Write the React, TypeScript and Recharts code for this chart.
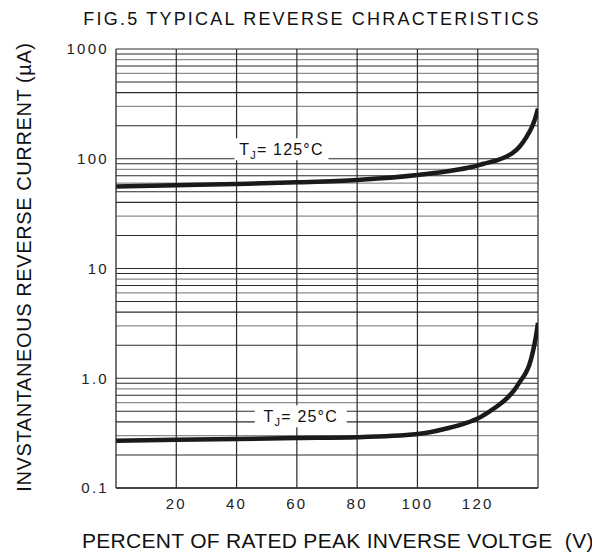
import React from 'react';
import { LineChart, Line, XAxis, YAxis, ReferenceLine, ReferenceDot } from 'recharts';

// percent of rated PIV vs reverse current (uA)
const voltage125 = [0, 20, 40, 60, 80, 100, 110, 118, 122, 126, 129, 132, 134, 136, 138, 139, 140];
const current125 = [56, 57.5, 59, 61, 64, 71, 77, 84, 90, 96, 103, 115, 130, 155, 195, 230, 286];

const voltage25 = [0, 20, 40, 60, 80, 100, 110, 116, 120, 124, 127, 130, 132, 134, 136, 137, 138.5, 139.3, 140];
const current25 = [0.27, 0.275, 0.28, 0.285, 0.29, 0.31, 0.35, 0.39, 0.43, 0.5, 0.57, 0.67, 0.77, 0.93, 1.13, 1.3, 1.85, 2.4, 3.2];

const xTicks = [20, 40, 60, 80, 100, 120];
const yTicks = [0.1, 1, 10, 100, 1000];
const yTickLabels = ['0.1', '1.0', '10', '100', '1000'];
const decades = [0.1, 1, 10, 100];
const minorSteps = [2, 3, 4, 5, 6, 7, 8, 9];
const vGrid = [20, 40, 60, 80, 100, 120, 140];

const toRows = (xs: number[], ys: number[]) => xs.map((v, i) => ({ v, i: ys[i] }));
const data125 = toRows(voltage125, current125);
const data25 = toRows(voltage25, current25);

const FONT = '"Liberation Sans", Arial, sans-serif';
const DARK = '#2a2a2a';
const GRAY = '#8c8c8c';

const TjLabel = (temp: string, w: number) => (props: any) => {
  const { cx, cy } = props;
  return (
    <g>
      <rect x={cx - w / 2} y={cy - 11} width={w} height={22} fill="#fff" />
      <text x={cx} y={cy + 6} textAnchor="middle" fontSize={16} fontFamily={FONT} fill="#111" letterSpacing={1.2}>
        T
        <tspan fontSize={11} dy={4}>J</tspan>
        <tspan dy={-4}>{'= ' + temp + '°C'}</tspan>
      </text>
    </g>
  );
};

export default function App() {
  const minorLines: { y: number; c: string }[] = [];
  decades.forEach((d) => {
    minorSteps.forEach((m) => {
      minorLines.push({ y: d * m, c: m === 3 || m === 6 || m === 8 ? GRAY : DARK });
    });
  });

  return (
    <div style={{ position: 'relative', width: 592, height: 544, fontFamily: FONT, background: '#fff' }}>
      <div
        style={{
          position: 'absolute', left: 0, width: 608, top: 1, textAlign: 'center',
          fontSize: 18, letterSpacing: 2.2, color: '#111', whiteSpace: 'nowrap',
        }}
      >
        FIG.5 TYPICAL REVERSE CHRACTERISTICS
      </div>
      <div
        style={{
          position: 'absolute', left: 16 - 250, top: 259 - 10, width: 500, height: 20,
          transform: 'rotate(-90deg)', textAlign: 'center', fontSize: 20, letterSpacing: 0.6,
          color: '#111', whiteSpace: 'nowrap', lineHeight: '20px',
        }}
      >
        INVSTANTANEOUS REVERSE CURRENT (µA)
      </div>
      <div
        style={{
          position: 'absolute', left: 74, top: 522, fontSize: 21, letterSpacing: 0.3,
          color: '#111', whiteSpace: 'nowrap', lineHeight: '21px',
        }}
      >
        PERCENT OF RATED PEAK INVERSE VOLTGE &nbsp;(V)
      </div>
      <LineChart width={592} height={544} margin={{ top: 41, right: 62, bottom: 34, left: 48 }}>
        <XAxis
          type="number"
          dataKey="v"
          domain={[0, 140]}
          ticks={xTicks}
          allowDataOverflow
          tickLine={false}
          axisLine={{ stroke: DARK, strokeWidth: 1.3 }}
          height={30}
          tickMargin={4}
          tick={{ fontSize: 15, fill: '#222', fontFamily: FONT, letterSpacing: 2.3 }}
        />
        <YAxis
          type="number"
          scale="log"
          domain={[0.1, 1000]}
          ticks={yTicks}
          allowDataOverflow
          width={60}
          tickLine={false}
          axisLine={{ stroke: DARK, strokeWidth: 1.3 }}
          tickMargin={1}
          tickFormatter={(val: number) => yTickLabels[yTicks.indexOf(val)] ?? String(val)}
          tick={{ fontSize: 15, fill: '#222', fontFamily: FONT, letterSpacing: 2.3 }}
        />
        {minorLines.map((g) => (
          <ReferenceLine key={'h' + g.y} y={g.y} stroke={g.c} strokeWidth={1.1} />
        ))}
        {yTicks.map((t) => (
          <ReferenceLine key={'d' + t} y={t} stroke={DARK} strokeWidth={1.2} />
        ))}
        {vGrid.map((x) => (
          <ReferenceLine key={'v' + x} x={x} stroke={DARK} strokeWidth={1.2} />
        ))}
        <Line
          data={data125}
          dataKey="i"
          type="monotone"
          stroke="#1a1a1a"
          strokeWidth={4.5}
          dot={false}
          isAnimationActive={false}
        />
        <Line
          data={data25}
          dataKey="i"
          type="monotone"
          stroke="#1a1a1a"
          strokeWidth={4.5}
          dot={false}
          isAnimationActive={false}
        />
        <ReferenceDot x={54.9} y={122} r={0} shape={TjLabel('125', 94)} />
        <ReferenceDot x={61.3} y={0.45} r={0} shape={TjLabel('25', 92)} />
      </LineChart>
    </div>
  );
}
